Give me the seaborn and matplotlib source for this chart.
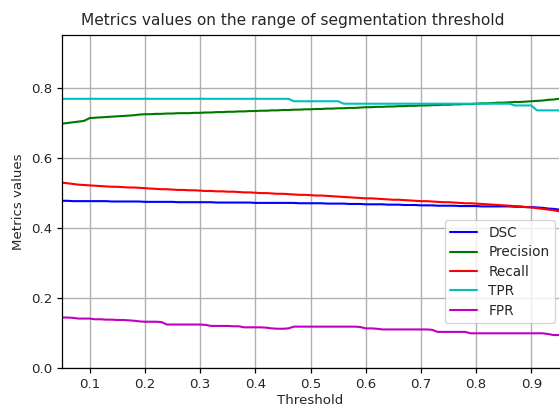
import matplotlib
matplotlib.use("Agg")
import matplotlib.pyplot as plt
import seaborn as sns
import pandas as pd

thresholds = [0.05, 0.06, 0.07, 0.08, 0.09, 0.10, 0.11, 0.12, 0.13, 0.14,
              0.15, 0.16, 0.17, 0.18, 0.19, 0.20, 0.21, 0.22, 0.23, 0.24,
              0.25, 0.26, 0.27, 0.28, 0.29, 0.30, 0.31, 0.32, 0.33, 0.34,
              0.35, 0.36, 0.37, 0.38, 0.39, 0.40, 0.41, 0.42, 0.43, 0.44,
              0.45, 0.46, 0.47, 0.48, 0.49, 0.50, 0.51, 0.52, 0.53, 0.54,
              0.55, 0.56, 0.57, 0.58, 0.59, 0.60, 0.61, 0.62, 0.63, 0.64,
              0.65, 0.66, 0.67, 0.68, 0.69, 0.70, 0.71, 0.72, 0.73, 0.74,
              0.75, 0.76, 0.77, 0.78, 0.79, 0.80, 0.81, 0.82, 0.83, 0.84,
              0.85, 0.86, 0.87, 0.88, 0.89, 0.90, 0.91, 0.92, 0.93, 0.94,
              0.95]

dsc = [0.477, 0.477, 0.476, 0.476, 0.476, 0.476, 0.476, 0.476, 0.476, 0.475,
       0.475, 0.475, 0.475, 0.475, 0.475, 0.474, 0.474, 0.474, 0.474, 0.474,
       0.474, 0.473, 0.473, 0.473, 0.473, 0.473, 0.473, 0.473, 0.472, 0.472,
       0.472, 0.472, 0.472, 0.472, 0.472, 0.471, 0.471, 0.471, 0.471, 0.471,
       0.471, 0.471, 0.471, 0.470, 0.470, 0.470, 0.470, 0.470, 0.469, 0.469,
       0.469, 0.469, 0.468, 0.468, 0.468, 0.467, 0.467, 0.467, 0.467, 0.466,
       0.466, 0.466, 0.465, 0.465, 0.465, 0.464, 0.464, 0.464, 0.463, 0.463,
       0.463, 0.463, 0.462, 0.462, 0.462, 0.462, 0.461, 0.461, 0.461, 0.461,
       0.461, 0.461, 0.460, 0.460, 0.459, 0.459, 0.458, 0.457, 0.455, 0.454,
       0.452]

precision = [0.697, 0.699, 0.701, 0.703, 0.705, 0.713, 0.714, 0.715, 0.716, 0.717,
             0.718, 0.719, 0.720, 0.721, 0.723, 0.724, 0.724, 0.725, 0.725, 0.726,
             0.726, 0.727, 0.727, 0.727, 0.728, 0.728, 0.729, 0.729, 0.730, 0.730,
             0.731, 0.731, 0.732, 0.732, 0.733, 0.733, 0.734, 0.734, 0.735, 0.735,
             0.736, 0.736, 0.737, 0.737, 0.738, 0.738, 0.739, 0.739, 0.740, 0.740,
             0.741, 0.741, 0.742, 0.742, 0.743, 0.744, 0.744, 0.745, 0.745, 0.746,
             0.746, 0.747, 0.747, 0.748, 0.748, 0.749, 0.749, 0.750, 0.750, 0.751,
             0.751, 0.752, 0.752, 0.753, 0.753, 0.754, 0.755, 0.755, 0.756, 0.757,
             0.757, 0.758, 0.759, 0.759, 0.760, 0.761, 0.762, 0.763, 0.765, 0.766,
             0.768]

recall = [0.529, 0.527, 0.525, 0.523, 0.522, 0.521, 0.520, 0.519, 0.518, 0.517,
          0.517, 0.516, 0.515, 0.515, 0.514, 0.513, 0.512, 0.511, 0.510, 0.510,
          0.509, 0.508, 0.508, 0.507, 0.507, 0.506, 0.505, 0.505, 0.504, 0.504,
          0.503, 0.503, 0.502, 0.501, 0.501, 0.500, 0.499, 0.499, 0.498, 0.497,
          0.497, 0.496, 0.495, 0.494, 0.494, 0.493, 0.492, 0.492, 0.491, 0.490,
          0.489, 0.488, 0.487, 0.486, 0.485, 0.484, 0.484, 0.483, 0.482, 0.481,
          0.480, 0.480, 0.479, 0.478, 0.477, 0.476, 0.476, 0.475, 0.474, 0.473,
          0.473, 0.472, 0.471, 0.470, 0.470, 0.469, 0.468, 0.467, 0.466, 0.465,
          0.464, 0.463, 0.462, 0.461, 0.459, 0.458, 0.456, 0.454, 0.452, 0.450,
          0.447]

tpr = [0.768, 0.768, 0.768, 0.768, 0.768, 0.768, 0.768, 0.768, 0.768, 0.768,
       0.768, 0.768, 0.768, 0.768, 0.768, 0.768, 0.768, 0.768, 0.768, 0.768,
       0.768, 0.768, 0.768, 0.768, 0.768, 0.768, 0.768, 0.768, 0.768, 0.768,
       0.768, 0.768, 0.768, 0.768, 0.768, 0.768, 0.768, 0.768, 0.768, 0.768,
       0.768, 0.768, 0.761, 0.761, 0.761, 0.761, 0.761, 0.761, 0.761, 0.761,
       0.761, 0.754, 0.754, 0.754, 0.754, 0.754, 0.754, 0.754, 0.754, 0.754,
       0.754, 0.754, 0.754, 0.754, 0.754, 0.754, 0.754, 0.754, 0.754, 0.754,
       0.754, 0.754, 0.754, 0.754, 0.754, 0.754, 0.754, 0.754, 0.754, 0.754,
       0.754, 0.754, 0.749, 0.749, 0.749, 0.749, 0.735, 0.735, 0.735, 0.735,
       0.735]

fpr = [0.144, 0.144, 0.143, 0.141, 0.141, 0.141, 0.139, 0.139, 0.138, 0.138,
       0.137, 0.137, 0.136, 0.135, 0.133, 0.132, 0.132, 0.132, 0.131, 0.124,
       0.124, 0.124, 0.124, 0.124, 0.124, 0.124, 0.123, 0.120, 0.120, 0.120,
       0.120, 0.119, 0.119, 0.116, 0.116, 0.116, 0.116, 0.115, 0.113, 0.112,
       0.112, 0.113, 0.118, 0.118, 0.118, 0.118, 0.118, 0.118, 0.118, 0.118,
       0.118, 0.118, 0.118, 0.118, 0.117, 0.113, 0.113, 0.112, 0.110, 0.110,
       0.110, 0.110, 0.110, 0.110, 0.110, 0.110, 0.110, 0.109, 0.103, 0.103,
       0.103, 0.103, 0.103, 0.103, 0.099, 0.099, 0.099, 0.099, 0.099, 0.099,
       0.099, 0.099, 0.099, 0.099, 0.099, 0.099, 0.099, 0.099, 0.097, 0.094,
       0.094]

metric_names = ["DSC", "Precision", "Recall", "TPR", "FPR"]
metric_values = [dsc, precision, recall, tpr, fpr]
metric_colors = ["#0000ff", "#007800", "#ff0000", "#00bfbf", "#bf00bf"]

rows = []
for name, vals in zip(metric_names, metric_values):
    for t, v in zip(thresholds, vals):
        rows.append({"Threshold": t, "value": v, "metric": name})
df = pd.DataFrame(rows)

sns.set_style("ticks")
plt.rcParams["font.family"] = ["DejaVu Sans"]

fig = plt.figure(figsize=(5.6, 4.05), dpi=100)
ax = fig.add_axes([62 / 560, 37 / 405, 497 / 560, 333 / 405])

sns.lineplot(data=df, x="Threshold", y="value", hue="metric",
             hue_order=metric_names,
             palette=dict(zip(metric_names, metric_colors)),
             linewidth=1.5, ax=ax)

ax.set_xlim(0.05, 0.95)
ax.set_ylim(0.0, 0.95)
ax.set_xticks([0.1, 0.2, 0.3, 0.4, 0.5, 0.6, 0.7, 0.8, 0.9])
ax.set_yticks([0.0, 0.2, 0.4, 0.6, 0.8])
ax.grid(True, color="#b0b0b0", linewidth=1.0)
for s in ax.spines.values():
    s.set_color("black")
    s.set_linewidth(0.9)
ax.spines["right"].set_visible(False)
ax.tick_params(labelsize=9.6, length=3.5, width=0.9, color="black")

ax.set_xlabel("Threshold", fontsize=9.6, labelpad=2)
ax.set_ylabel("Metrics values", fontsize=9.6, labelpad=4)
ax.set_title("Metrics values on the range of segmentation threshold",
             fontsize=11.1, x=(292.5 - 62) / 497, pad=7)

leg = ax.legend(loc="lower right", bbox_to_anchor=(0.992, 0.135),
                borderaxespad=0, fontsize=9.8, frameon=True,
                handlelength=2.0, labelspacing=0.4)
leg.get_frame().set_edgecolor("#cccccc")

fig.savefig("out.png", dpi=100)
